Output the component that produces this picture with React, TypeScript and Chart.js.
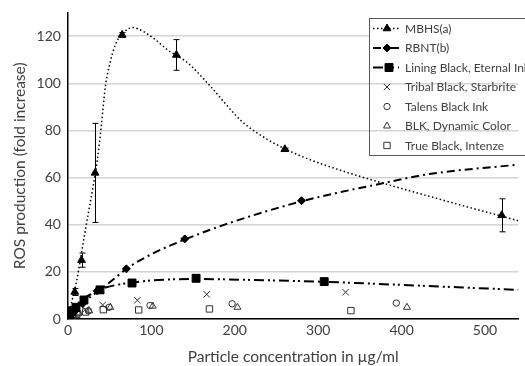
import React, { useEffect, useRef } from 'react';
import { Chart, registerables } from 'chart.js';

Chart.register(...registerables);

const FONT = 'Lato';
const TEXT = '#404040';

// Axis ticks
const xTickValues = [0, 100, 200, 300, 400, 500];
const yTickValues = [0, 20, 40, 60, 80, 100, 120];

// MBHS(a) measured points + error bars
const mbhsX = [1.02, 2.03, 4.06, 8.13, 16.25, 32.5, 65, 130, 260, 520];
const mbhsY = [1, 1.5, 3, 11.5, 25, 62, 120.5, 112, 72, 44];
const mbhsErr = [0, 0, 1, 1.5, 3, 21, 1, 6.5, 0.5, 7];
// MBHS fitted curve
const mbhsCurveX = [0, 5, 10, 15, 20, 25, 30, 35, 40, 45, 50, 57, 65, 78, 90, 104, 120, 143, 170, 208, 240, 275, 300, 340, 376, 452, 540];
const mbhsCurveY = [0, 8, 15.5, 25.5, 36, 46, 56, 67, 82, 99, 108, 116.5, 121, 123.6, 122, 118.7, 114, 108.8, 99, 84, 76, 69.8, 66.3, 61.6, 57.8, 50.2, 41.7];

// RBNT(b)
const rbntX = [1.09, 2.19, 4.38, 8.75, 17.5, 35, 70, 140, 280];
const rbntY = [0.8, 1.2, 2, 3.5, 6.5, 12, 21.3, 34, 50.2];
const rbntCurveX = [0, 5, 10, 20, 37, 55, 70, 100, 142, 200, 283, 376, 433, 540];
const rbntCurveY = [0, 2, 4, 7.5, 12, 17, 21.3, 27.5, 34, 41.5, 50.2, 57.5, 61.5, 65.5];

// Lining Black, Eternal Ink
const liningX = [1.2, 2.4, 4.8, 9.6, 19.2, 38.4, 76.8, 153.6, 307.2];
const liningY = [1.5, 2, 3.5, 5, 8.1, 12.4, 15.3, 17.3, 15.9];
const liningCurveX = [0, 5, 10, 20, 30, 40, 60, 80, 100, 150, 220, 308, 393, 540];
const liningCurveY = [0, 4, 6, 9, 11, 12.8, 14.6, 15.6, 16.4, 17, 16.6, 15.8, 14.6, 12.4];

// Tribal Black, Starbrite
const tribalX = [5.2, 10.4, 20.8, 41.6, 83.2, 166.4, 332.8];
const tribalY = [1.5, 2.5, 4, 6, 8, 10.5, 11.4];
// Talens Black Ink
const talensX = [6.15, 12.3, 24.6, 49.2, 98.4, 196.8, 393.6];
const talensY = [1.5, 2.5, 3.5, 5, 5.8, 6.5, 6.8];
// BLK, Dynamic Color
const blkX = [6.35, 12.7, 25.4, 50.8, 101.6, 203.2, 406.4];
const blkY = [1.5, 2.5, 3.5, 5, 5.5, 5, 5];
// True Black, Intenze
const trueX = [5.3, 10.6, 21.2, 42.4, 84.8, 169.6, 339.2];
const trueY = [1, 2, 3, 4, 3.9, 4.3, 3.6];

const legendLabels = [
  'MBHS(a)',
  'RBNT(b)',
  'Lining Black, Eternal Ink',
  'Tribal Black, Starbrite',
  'Talens Black Ink',
  'BLK, Dynamic Color',
  'True Black, Intenze',
];

const pts = (xs: number[], ys: number[]) => xs.map((x, i) => ({ x, y: ys[i] }));

const DOT = [1.5, 2.5];
const DASHDOT = [8, 4, 2, 4];
const DASHDOTDOT = [10, 4, 2, 3, 2, 4];

function drawMarker(ctx: CanvasRenderingContext2D, style: string, x: number, y: number, r: number, filled: boolean) {
  ctx.save();
  ctx.setLineDash([]);
  ctx.lineWidth = 1;
  ctx.strokeStyle = filled ? '#000' : '#333';
  ctx.fillStyle = '#000';
  ctx.beginPath();
  if (style === 'triangle') {
    for (let k = 0; k < 3; k++) {
      const a = (k * 2 * Math.PI) / 3;
      const px = x + Math.sin(a) * r;
      const py = y - Math.cos(a) * r;
      if (k === 0) ctx.moveTo(px, py); else ctx.lineTo(px, py);
    }
    ctx.closePath();
  } else if (style === 'rectRot') {
    ctx.moveTo(x, y - r); ctx.lineTo(x + r, y); ctx.lineTo(x, y + r); ctx.lineTo(x - r, y); ctx.closePath();
  } else if (style === 'rect') {
    const s = r * Math.SQRT1_2;
    ctx.rect(x - s, y - s, 2 * s, 2 * s);
  } else if (style === 'circle') {
    ctx.arc(x, y, r, 0, Math.PI * 2);
  } else if (style === 'crossRot') {
    const s = r * Math.SQRT1_2;
    ctx.moveTo(x - s, y - s); ctx.lineTo(x + s, y + s);
    ctx.moveTo(x + s, y - s); ctx.lineTo(x - s, y + s);
  }
  if (filled) ctx.fill();
  ctx.stroke();
  ctx.restore();
}

const legendSpec = [
  { dash: DOT, lw: 1.5, style: 'triangle', r: 4.5, filled: true },
  { dash: DASHDOT, lw: 2, style: 'rectRot', r: 4, filled: true },
  { dash: DASHDOTDOT, lw: 2, style: 'rect', r: 5.6, filled: true },
  { dash: null, lw: 0, style: 'crossRot', r: 4.5, filled: false },
  { dash: null, lw: 0, style: 'circle', r: 3.2, filled: false },
  { dash: null, lw: 0, style: 'triangle', r: 4, filled: false },
  { dash: null, lw: 0, style: 'rect', r: 4.5, filled: false },
];

const legendPlugin = {
  id: 'customLegend',
  afterDraw(chart: any) {
    const ctx = chart.ctx as CanvasRenderingContext2D;
    ctx.save();
    const bx = 369.5, by = 18.5, bw = 170, bh = 137;
    ctx.fillStyle = '#fff';
    ctx.fillRect(bx, by, bw, 39);
    ctx.strokeStyle = '#595959';
    ctx.lineWidth = 1;
    ctx.strokeRect(bx, by, bw, bh);
    ctx.font = `12px ${FONT}`;
    ctx.textBaseline = 'middle';
    legendLabels.forEach((label, i) => {
      const y = 28.5 + i * 19.5;
      const s = legendSpec[i];
      if (s.dash) {
        ctx.save();
        ctx.strokeStyle = '#000';
        ctx.lineWidth = s.lw;
        ctx.setLineDash(s.dash);
        ctx.beginPath();
        ctx.moveTo(373, y);
        ctx.lineTo(399, y);
        ctx.stroke();
        ctx.restore();
      }
      drawMarker(ctx, s.style, i === 2 ? 389 : 387, y, s.r, s.filled);
      ctx.fillStyle = TEXT;
      ctx.fillText(label, 405, y + 0.5);
    });
    ctx.restore();
  },
};

const errorBarPlugin = {
  id: 'errorBars',
  afterDatasetsDraw(chart: any) {
    const ctx = chart.ctx as CanvasRenderingContext2D;
    const xs = chart.scales.x;
    const ys = chart.scales.y;
    ctx.save();
    ctx.strokeStyle = '#000';
    ctx.lineWidth = 1;
    ctx.setLineDash([]);
    mbhsX.forEach((xv, i) => {
      const e = mbhsErr[i];
      if (!e) return;
      const px = Math.round(xs.getPixelForValue(xv)) + 0.5;
      const top = ys.getPixelForValue(mbhsY[i] + e);
      const bot = ys.getPixelForValue(mbhsY[i] - e);
      ctx.beginPath();
      ctx.moveTo(px, top); ctx.lineTo(px, bot);
      ctx.moveTo(px - 3, top); ctx.lineTo(px + 3, top);
      ctx.moveTo(px - 3, bot); ctx.lineTo(px + 3, bot);
      ctx.stroke();
    });
    ctx.restore();
  },
};

export default function App() {
  const ref = useRef<HTMLCanvasElement>(null);
  useEffect(() => {
    document.body.style.margin = '0';
    const canvas = ref.current!;
    const curve = (data: any, dash: number[], lw: number) => ({
      data,
      showLine: true,
      borderColor: '#000',
      borderWidth: lw,
      borderDash: dash,
      pointRadius: 0,
      pointHoverRadius: 0,
      cubicInterpolationMode: 'monotone',
      fill: false,
    });
    const marks = (data: any, style: string, r: number, filled: boolean) => ({
      data,
      showLine: false,
      pointStyle: style,
      pointRadius: r,
      pointBorderWidth: 1,
      pointBorderColor: filled ? '#000' : '#333',
      pointBackgroundColor: filled ? '#000' : 'rgba(0,0,0,0)',
      borderColor: '#000',
      backgroundColor: filled ? '#000' : 'rgba(0,0,0,0)',
    });
    const chart = new Chart(canvas, {
      type: 'scatter',
      data: {
        datasets: [
          curve(pts(mbhsCurveX, mbhsCurveY), DOT, 1.5),
          curve(pts(rbntCurveX, rbntCurveY), DASHDOT, 2),
          curve(pts(liningCurveX, liningCurveY), DASHDOTDOT, 2),
          marks(pts(mbhsX, mbhsY), 'triangle', 4.5, true),
          marks(pts(rbntX, rbntY), 'rectRot', 4, true),
          marks(pts(liningX, liningY), 'rect', 5.6, true),
          marks(pts(tribalX, tribalY), 'crossRot', 4.5, false),
          marks(pts(talensX, talensY), 'circle', 3.2, false),
          marks(pts(blkX, blkY), 'triangle', 4, false),
          marks(pts(trueX, trueY), 'rect', 4.5, false),
        ] as any,
      },
      options: {
        animation: false,
        responsive: false,
        events: [],
        layout: { padding: { left: 11, right: 0, top: 12.5, bottom: 0 } },
        plugins: { legend: { display: false }, tooltip: { enabled: false } },
        scales: {
          x: {
            type: 'linear',
            min: 0,
            max: 540,
            afterBuildTicks: (s: any) => {
              s.ticks = xTickValues.map((v) => ({ value: v }));
            },
            grid: { display: false, drawTicks: false },
            border: { display: true, color: '#000', width: 1.5 },
            ticks: { font: { family: FONT, size: 14 }, color: TEXT, padding: 3, maxRotation: 0 },
            title: {
              display: true,
              text: 'Particle concentration in µg/ml',
              font: { family: FONT, size: 15.5 },
              color: TEXT,
              padding: { top: 5.5, bottom: 0 },
            },
          },
          y: {
            type: 'linear',
            min: 0,
            max: 130,
            afterBuildTicks: (s: any) => {
              s.ticks = yTickValues.map((v) => ({ value: v }));
            },
            afterFit: (s: any) => {
              s.paddingTop = 0;
            },
            grid: { color: '#d4d4d4', lineWidth: 1.5, drawTicks: false },
            border: { display: true, color: '#000', width: 1.5 },
            ticks: { font: { family: FONT, size: 14 }, color: TEXT, padding: 7 },
            title: {
              display: true,
              text: 'ROS production (fold increase)',
              font: { family: FONT, size: 15.5 },
              color: TEXT,
              padding: { top: 0, bottom: 0 },
            },
          },
        },
      } as any,
      plugins: [errorBarPlugin, legendPlugin],
    });
    return () => chart.destroy();
  }, []);
  return <canvas ref={ref} width={525} height={366} style={{ display: 'block' }} />;
}
